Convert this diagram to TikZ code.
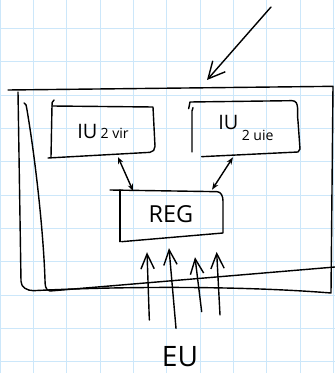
\documentclass[tikz,border=0pt]{standalone}
\usepackage{fontspec}
\setmainfont{Open Sans}
\usetikzlibrary{arrows.meta}

\begin{document}
\begin{tikzpicture}[
    trazo/.style={line width=1.2pt, line cap=round, line join=round},
    rejilla/.style={draw={rgb,255:red,204;green,231;blue,250}, line width=0.8pt},
    caja/.style={inner sep=0pt},
    entrada/.style={trazo, -{Straight Barb[length=4.5mm,width=4mm]}},
    enlace/.style={trazo, {Stealth[length=2mm,width=1.6mm]}-{Stealth[length=2mm,width=1.6mm]}},
]
    \useasboundingbox (0,0) rectangle (10.05,11.19);
    \clip (0,0) rectangle (10.05,11.19);

    % Papel cuadriculado
    \begin{scope}[yshift=0.34cm]
        \draw[rejilla] (0,-1) grid (10.05,11);
    \end{scope}

    % Caja exterior
    \draw[trazo] (0.24,8.49) -- (9.99,8.6) -- (9.93,2.40)
        .. controls (7.2,2.62) and (3.6,2.6) .. (1.0,2.47)
        to[out=180,in=-90] (0.63,2.75) -- (0.54,8.43);
    \draw[trazo] (0.72,8.1) to[out=-20,in=95] (0.8,7.95)
        .. controls (1.05,6.5) and (1.3,4.3) .. (1.35,2.79)
        to[out=-90,in=175] (1.5,2.46) -- (10.05,3.18);

    % Flecha de entrada
    \coordinate (ext) at (8.13,10.98);
    \coordinate (sis) at (6.21,8.79);
    \draw[trazo, -{Straight Barb[length=5mm,width=5mm]}] (ext) -- (sis);

    % Bloques IU
    \node[caja, minimum width=3.06cm, minimum height=1.53cm] (iuvir) at (3.09,7.25)
        {\fontsize{17}{17}\selectfont IU\,{\fontsize{12}{12}\selectfont 2 vir}\hspace{0.35cm}};
    \draw[trazo] (1.62,8.19) to[bend right=30] (1.56,8.02) -- (1.53,6.48);
    \draw[trazo] (1.56,8.01) -- (4.59,7.98) -- (4.65,6.8)
        to[out=-90,in=0] (4.5,6.62) -- (1.44,6.45);

    \node[caja, minimum width=3.24cm, minimum height=1.62cm] (iuuie) at (7.38,7.35)
        {\fontsize{17}{17}\selectfont IU\,\raisebox{-1.1ex}{\fontsize{12}{12}\selectfont 2 uie}};
    \draw[trazo] (5.79,7.96) -- (5.76,7.86) -- (5.76,6.63);
    \draw[trazo] (5.66,7.93) -- (5.7,8.13) -- (8.76,8.17)
        to[out=0,in=100] (8.94,7.56) -- (9.0,6.72) -- (8.94,6.63) -- (6.05,6.49);

    % Registro
    \node[caja, minimum width=3.06cm, minimum height=1.41cm] (reg) at (5.13,4.755)
        {\fontsize{20}{20}\selectfont REG\hspace{0.3cm}};
    \draw[trazo] (3.3,5.49) -- (6.51,5.44) to[out=0,in=90] (6.69,5.16)
        -- (6.69,4.2) -- (3.65,3.94);
    \draw[trazo] (3.6,5.49) -- (3.6,3.94);

    % Enlaces IU - REG
    \draw[enlace] ([xshift=0.45cm]iuvir.south) -- ([xshift=-1.14cm]reg.north);
    \draw[trazo, {Stealth[open,length=2.2mm,width=1.6mm]}-{Stealth[open,length=2.2mm,width=1.6mm]}]
        ([xshift=-0.39cm,yshift=-0.06cm]iuuie.south) -- ([xshift=1.23cm,yshift=0.03cm]reg.north);

    % Entradas EU
    \node (eu) at (5.4,0.5) {\fontsize{24}{24}\selectfont EU};
    \coordinate (e1) at (4.48,1.59);
    \coordinate (e2) at (5.28,1.34);
    \coordinate (e3) at (6.05,1.84);
    \coordinate (e4) at (6.6,1.74);
    \draw[entrada] (e1) -- ([xshift=-0.72cm,yshift=-0.42cm]reg.south);
    \draw[entrada] (e2) -- ([xshift=-0.06cm,yshift=-0.30cm]reg.south);
    \draw[entrada] (e3) -- ([xshift=0.72cm,yshift=-0.57cm]reg.south);
    \draw[entrada] (e4) -- ([xshift=1.37cm,yshift=-0.41cm]reg.south);
\end{tikzpicture}
\end{document}
